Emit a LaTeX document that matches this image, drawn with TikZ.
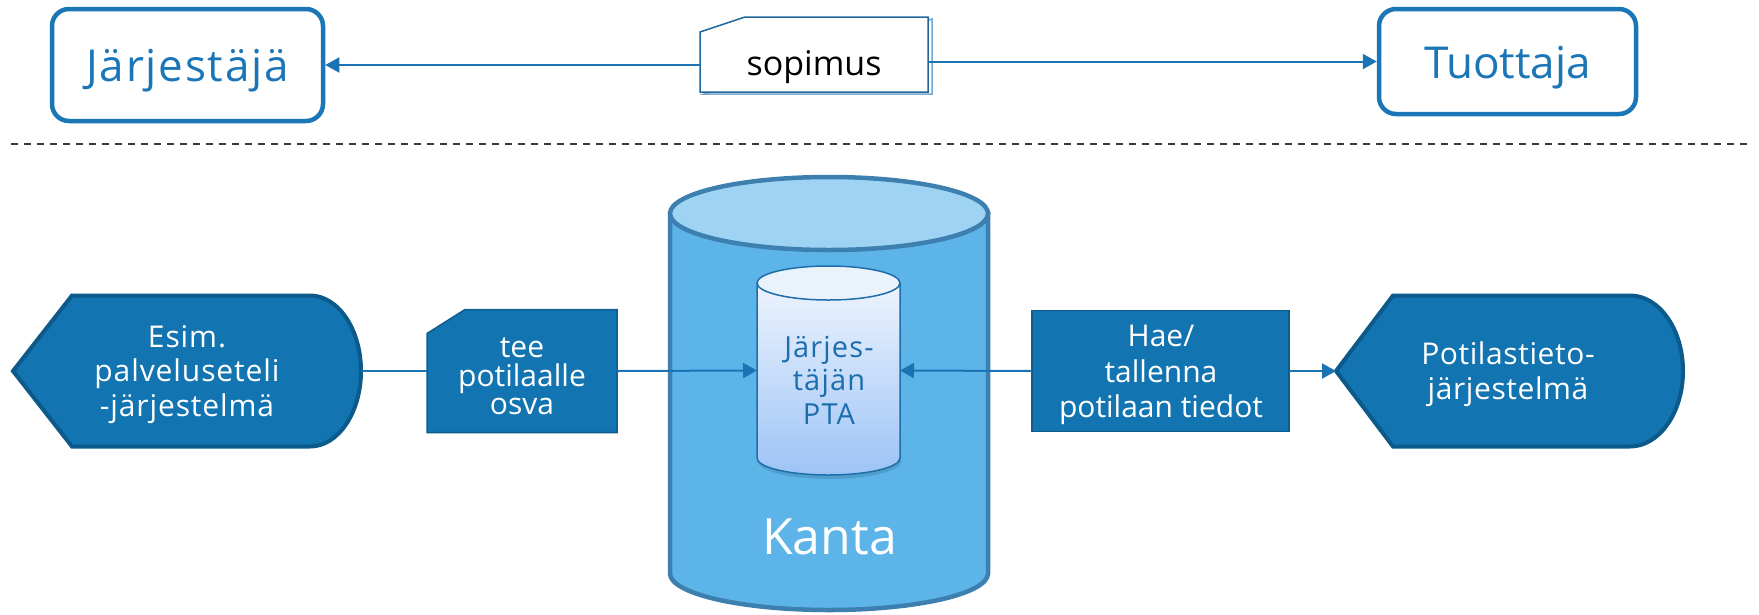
\documentclass[tikz,border=0pt]{standalone}
\usepackage{fontspec}
\setmainfont{Open Sans}
\usetikzlibrary{arrows.meta,calc}
\definecolor{topblue}{HTML}{1A76B6}
\definecolor{connblue}{HTML}{1A73B3}
\definecolor{bfill}{HTML}{1274B1}
\definecolor{bedge}{HTML}{0B5A8A}
\definecolor{boxedge}{HTML}{0E5C8E}
\definecolor{kbody}{HTML}{5CB4E9}
\definecolor{ktop}{HTML}{9FD3F4}
\definecolor{kedge}{HTML}{3D80AF}
\definecolor{itop}{HTML}{EDF4FD}
\definecolor{ibot}{HTML}{9DC3F6}
\definecolor{icap}{HTML}{EAF2FC}
\definecolor{iedge}{HTML}{1E6EA9}
\definecolor{itext}{HTML}{1C6DAD}
\definecolor{sopedge}{HTML}{1F679C}
\definecolor{sopback}{HTML}{7DA8CB}
\definecolor{sepgray}{HTML}{3A3A3A}
\begin{document}
\begin{tikzpicture}[x=1pt,y=-1pt,
  topbox/.style={draw=topblue, line width=4.5pt, rounded corners=17pt, fill=white,
    text=topblue, font=\fontsize{44pt}{50pt}\selectfont, inner sep=0pt,
    text height=33pt, text depth=0pt},
  geo/.style={draw=none, inner sep=0pt, outer sep=0pt},
  conn/.style={draw=connblue, line width=2pt},
  arr/.style={-{Triangle[length=14pt,width=15pt]}},
  bshape/.style={fill=bfill, draw=bedge, line width=4pt},
  bbox/.style={fill=bfill, draw=boxedge, line width=1.5pt},
  wtxt/.style={text=white, align=center, inner sep=0pt},
  sepline/.style={draw=sepgray, line width=2.5pt, dash pattern=on 7pt off 6pt}
]
\useasboundingbox (0,0) rectangle (1759,614);

% top row
\node[topbox, minimum width=271pt, minimum height=112pt,
  font=\fontsize{44pt}{50pt}\selectfont\addfontfeature{LetterSpace=4}] (jar) at (187.5,65) {Järjestäjä};
\node[topbox, minimum width=257pt, minimum height=105pt] (tuo) at (1507.5,61.5) {Tuottaja};
\node[geo, minimum width=228pt, minimum height=75pt] (sop) at (814,54.5) {};
\path[fill=white, draw=sopback, line width=1.5pt]
  ($(sop.north east)+(4,2)$) -- ($(sop.south east)+(4,2)$) -- ($(sop.south west)+(4,2)$) -- cycle;
\path[fill=white, draw=sopedge, line width=1.5pt]
  ($(sop.north west)+(0,15)$) -- ($(sop.north west)+(45,0)$) -- (sop.north east)
  -- (sop.south east) -- (sop.south west) -- cycle;
\node[geo, font=\fontsize{34pt}{40pt}\selectfont, anchor=base] (soptxt) at (814,75) {sopimus};

\draw[conn, arr] (sop.west |- jar.east) -- (jar.east);
\draw[conn, arr] (sop.east |- tuo.west) -- (tuo.west);

% separator
\coordinate (dl) at (11,144);
\coordinate (dr) at (1748,144);
\draw[sepline] (dl) -- (dr);

% Kanta cylinder
\node[geo, minimum width=318pt, minimum height=433pt] (kanta) at (829,393.5) {};
\path[fill=kbody, draw=kedge, line width=4.5pt]
  ($(kanta.north west)+(0,36.5)$) -- ($(kanta.south west)+(0,-36.5)$)
  arc[start angle=180, end angle=360, x radius=159pt, y radius=36.5pt]
  -- ($(kanta.north east)+(0,36.5)$) -- cycle;
\path[fill=ktop, draw=kedge, line width=4.5pt]
  ($(kanta.north)+(0,36.5)$) ellipse [x radius=159pt, y radius=36.5pt];
\node[geo, text=white, font=\fontsize{50pt}{60pt}\selectfont, anchor=base] (kantatxt) at (829.5,554) {Kanta};

% inner cylinder
\node[geo, minimum width=143pt, minimum height=209pt] (pta) at (828.5,370.5) {};
\fill[black, opacity=0.12] ($(pta.south)+(1,-14)$) ellipse [x radius=72pt, y radius=18pt];
\path[top color=itop, bottom color=ibot, draw=iedge, line width=1.5pt]
  ($(pta.north west)+(0,17)$) -- ($(pta.south west)+(0,-17)$)
  arc[start angle=180, end angle=360, x radius=71.5pt, y radius=17pt]
  -- ($(pta.north east)+(0,17)$) -- cycle;
\path[fill=icap, draw=iedge, line width=1.5pt]
  ($(pta.north)+(0,17)$) ellipse [x radius=71.5pt, y radius=17pt];
\node[geo, text=itext, align=center,
  font=\fontsize{29pt}{33.5pt}\selectfont\addfontfeature{LetterSpace=4}] (ptatxt) at (829,380) {Järjes-\\täjän\\PTA};

% left shapes
\node[geo, minimum width=348pt, minimum height=151pt] (esim) at (187,371) {};
\path[bshape] (esim.west) -- ($(esim.north west)+(59,0)$) -- ($(esim.north east)+(-51,0)$)
  arc[start angle=90, end angle=-90, x radius=51pt, y radius=75.5pt]
  -- ($(esim.south west)+(59,0)$) -- cycle;
\node[wtxt, font=\fontsize{30pt}{34.5pt}\selectfont\addfontfeature{LetterSpace=3}] (esimtxt) at (187,374.5) {Esim.\\palveluseteli\\-järjestelmä};

\node[geo, minimum width=190pt, minimum height=123pt] (tee) at (522,371) {};
\path[bbox] ($(tee.north west)+(0,24)$) -- ($(tee.north west)+(38,0)$) -- (tee.north east)
  -- (tee.south east) -- (tee.south west) -- cycle;
\node[wtxt, font=\fontsize{30pt}{28.5pt}\selectfont] (teetxt) at (522,376.5) {tee\\potilaalle\\osva};

% right shapes
\node[geo, minimum width=257pt, minimum height=121pt] (hae) at (1160.5,371) {};
\path[bbox] (hae.north west) rectangle (hae.south east);
\node[wtxt, font=\fontsize{30pt}{35.5pt}\selectfont] (haetxt) at (1161,375.3) {Hae/\\tallenna\\potilaan tiedot};

\node[geo, minimum width=347pt, minimum height=151pt] (pot) at (1509.5,371) {};
\path[bshape] (pot.west) -- ($(pot.north west)+(57,0)$) -- ($(pot.north east)+(-53,0)$)
  arc[start angle=90, end angle=-90, x radius=53pt, y radius=75.5pt]
  -- ($(pot.south west)+(57,0)$) -- cycle;
\node[wtxt, font=\fontsize{30pt}{35pt}\selectfont\addfontfeature{LetterSpace=2}] (pottxt) at (1508,374.5) {Potilastieto-\\järjestelmä};

% connectors
\draw[conn] (esim.east) -- (tee.west);
\draw[conn, arr] (tee.east) -- (pta.west);
\draw[conn, arr] (hae.west) -- (pta.east);
\draw[conn, arr] (hae.east) -- (pot.west);
\end{tikzpicture}
\end{document}
